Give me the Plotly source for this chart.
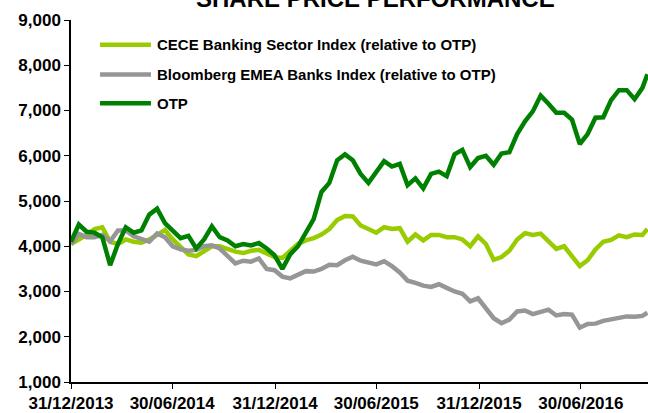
import pandas as pd
import plotly.graph_objects as go

# ---- data ----
dates = [d.strftime("%Y-%m-%d") for d in pd.date_range("2013-12-31", periods=74, freq="14D")] + ["2016-10-27"]

otp = [4100, 4480, 4320, 4300, 4200, 3580, 4050, 4420, 4300, 4350,
       4700, 4830, 4510, 4350, 4180, 4230, 3950, 4150, 4440, 4200,
       4130, 4000, 4050, 4020, 4070, 3950, 3800, 3500, 3820, 4000,
       4300, 4600, 5200, 5400, 5900, 6030, 5900, 5600, 5400, 5650,
       5880, 5760, 5820, 5350, 5500, 5280, 5600, 5650, 5550, 6030,
       6130, 5750, 5950, 6000, 5800, 6050, 6080, 6480, 6760, 6980,
       7330, 7150, 6950, 6950, 6800, 6260, 6480, 6840, 6850, 7230,
       7450, 7450, 7250, 7500, 7800]

cece = [4050, 4150, 4250, 4380, 4420, 4100, 4050, 4150, 4100, 4080,
        4150, 4250, 4360, 4150, 4000, 3820, 3780, 3900, 4000, 4000,
        3930, 3880, 3850, 3900, 3920, 3850, 3760, 3740, 3900, 4050,
        4130, 4180, 4260, 4380, 4580, 4670, 4660, 4460, 4380, 4300,
        4420, 4380, 4400, 4100, 4260, 4130, 4250, 4250, 4200, 4200,
        4150, 4000, 4220, 4050, 3700, 3760, 3900, 4150, 4290, 4250,
        4280, 4100, 3940, 4000, 3780, 3560, 3690, 3930, 4100, 4140,
        4240, 4200, 4260, 4250, 4380]

bloomberg = [4050, 4270, 4200, 4200, 4250, 4110, 4350, 4350, 4220, 4150,
             4100, 4280, 4200, 4000, 3930, 3900, 3920, 4000, 4020, 3950,
             3800, 3620, 3680, 3660, 3730, 3500, 3470, 3330, 3290, 3370,
             3450, 3440, 3500, 3590, 3580, 3690, 3770, 3680, 3640, 3600,
             3670, 3560, 3420, 3240, 3190, 3130, 3100, 3160, 3080, 3000,
             2950, 2780, 2850, 2620, 2410, 2300, 2380, 2560, 2580, 2500,
             2560, 2600, 2470, 2500, 2490, 2200, 2280, 2290, 2350, 2390,
             2420, 2450, 2440, 2460, 2530]

tick_dates = ["2013-12-31", "2014-06-30", "2014-12-31", "2015-06-30", "2015-12-31", "2016-06-30"]
tick_labels = ["31/12/2013", "30/06/2014", "31/12/2014", "30/06/2015", "31/12/2015", "30/06/2016"]

series = [
    ("CECE Banking Sector Index (relative to OTP)", cece, "#99CC00"),
    ("Bloomberg EMEA Banks Index (relative to OTP)", bloomberg, "#969696"),
    ("OTP", otp, "#008000"),
]

FONT = "Liberation Sans, Arial, sans-serif"

fig = go.Figure()
for name, vals, col in series:
    fig.add_trace(go.Scatter(x=dates, y=vals, mode="lines", name=name,
                             line=dict(color=col, width=4.5), showlegend=False))

# manual legend (keys + text) to match the long line samples
leg_y = [0.9315, 0.8493, 0.7699]
for (name, vals, col), yy in zip(series, leg_y):
    fig.add_shape(type="line", xref="paper", yref="paper", x0=0.0503, x1=0.1386,
                  y0=yy, y1=yy, line=dict(color=col, width=4.5))
    fig.add_annotation(xref="paper", yref="paper", x=0.1456, y=yy, text="<b>" + name + "</b>",
                       showarrow=False, xanchor="left", yanchor="middle",
                       font=dict(family=FONT, size=15, color="black"))

fig.add_annotation(xref="paper", yref="paper", x=0.528, y=1.0164, text="<b>SHARE PRICE PERFORMANCE</b>",
                   showarrow=False, xanchor="center", yanchor="bottom",
                   font=dict(family=FONT, size=24, color="black"))

fig.update_layout(
    width=648, height=413,
    margin=dict(l=71, r=0, t=20, b=28),
    paper_bgcolor="white", plot_bgcolor="white",
    font=dict(family=FONT, color="black"),
)
fig.update_xaxes(range=["2013-12-31", "2016-10-28"], tickvals=tick_dates, ticktext=tick_labels,
                 showgrid=False, zeroline=False, showline=True, linecolor="black", linewidth=1.5,
                 ticks="outside", ticklen=5, tickcolor="black",
                 tickfont=dict(family=FONT, size=17, color="black", weight="bold"))
fig.update_yaxes(range=[1000, 9000], dtick=1000, tickformat=",",
                 showgrid=False, zeroline=False, showline=True, linecolor="black", linewidth=1.5,
                 ticks="outside", ticklen=5, tickcolor="black",
                 tickfont=dict(family=FONT, size=17, color="black", weight="bold"))

fig.write_html("out.html")
